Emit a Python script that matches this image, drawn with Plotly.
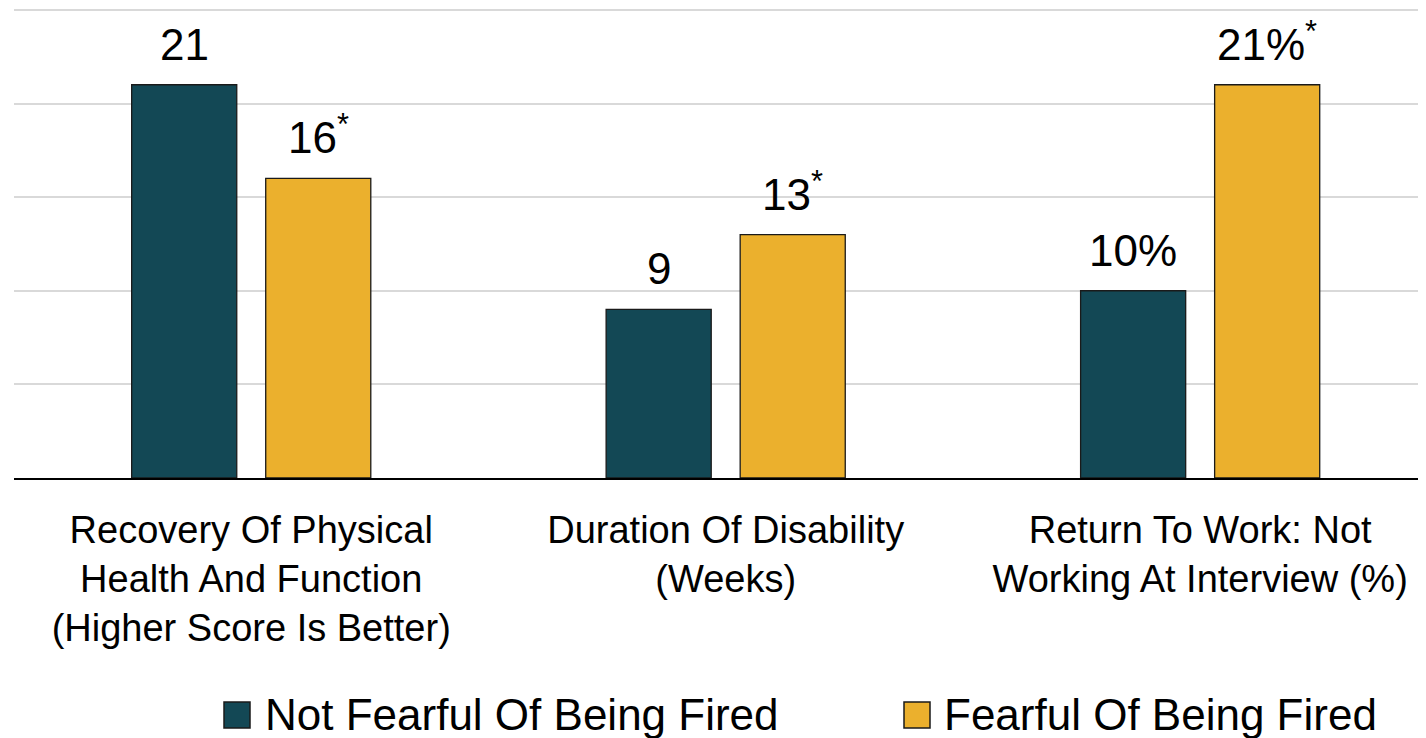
import plotly.graph_objects as go

categories = [
    "Recovery Of Physical<br>Health And Function<br>(Higher Score Is Better)",
    "Duration Of Disability<br>(Weeks)",
    "Return To Work: Not<br>Working At Interview (%)",
]
series_names = ["Not Fearful Of Being Fired", "Fearful Of Being Fired"]
not_fearful = [21, 9, 10]
fearful = [16, 13, 21]
not_fearful_labels = ["21", "9", "10%"]
fearful_labels = ["16<sup>*</sup>", "13<sup>*</sup>", "21%<sup>*</sup>"]
colors = ["#134855", "#EBB02D"]

FONT = "Liberation Sans, Arial, sans-serif"

# page body has an 8px margin; figure sized to fill the rest of the window
OFF = 8
W, H = 1426 - OFF, 738 - OFF

fig = go.Figure()
for name, vals, col in [(series_names[0], not_fearful, colors[0]),
                        (series_names[1], fearful, colors[1])]:
    fig.add_trace(go.Bar(
        x=categories, y=vals, name=name,
        marker=dict(color=col, line=dict(color="#1a1a1a", width=1.3)),
        showlegend=False,
    ))

# data labels above bars
shift = 67
for vals, labels, xs in [(not_fearful, not_fearful_labels, -shift), (fearful, fearful_labels, shift)]:
    for c, v, t in zip(categories, vals, labels):
        fig.add_annotation(x=c, y=v, text=t, showarrow=False, xshift=xs,
                           yanchor="bottom", yshift=14,
                           font=dict(family=FONT, size=44, color="black"))

# custom legend (page pixel coordinates converted to paper)
px0, pw, py0, ph = 14, 1412, 478, 470
def xp(px):
    return (px - px0) / pw
def yp(py):
    return (py0 - py) / ph

legend_items = [(series_names[0], colors[0], 224, 263), (series_names[1], colors[1], 904, 942)]
for name, col, sx, tx in legend_items:
    fig.add_shape(type="rect", xref="paper", yref="paper",
                  x0=xp(sx), x1=xp(sx + 26), y0=yp(728), y1=yp(702),
                  fillcolor=col, line=dict(color="#1a1a1a", width=1.5))
    fig.add_annotation(xref="paper", yref="paper", x=xp(tx), y=yp(714),
                       xanchor="left", yanchor="middle", text=name, showarrow=False,
                       font=dict(family=FONT, size=44, color="black"))

fig.update_layout(
    barmode="group", bargap=0.435, bargroupgap=0.216,
    width=W, height=H,
    margin=dict(l=14 - OFF, r=0, t=0, b=738 - 478),
    paper_bgcolor="white", plot_bgcolor="white",
    font=dict(family=FONT, color="black"),
)
fig.update_xaxes(
    range=[-0.5, 2.476], showline=True, linecolor="black", linewidth=2,
    ticks="", tickfont=dict(family=FONT, size=38, color="black"),
    ticklabelstandoff=17, showgrid=False,
)
fig.update_yaxes(
    range=[0, 25.1], tickvals=[5, 10, 15, 20, 25], showgrid=True,
    gridcolor="#d9d9d9", gridwidth=2,
    showticklabels=False, zeroline=False, ticks="",
)
fig.write_html("out.html")
